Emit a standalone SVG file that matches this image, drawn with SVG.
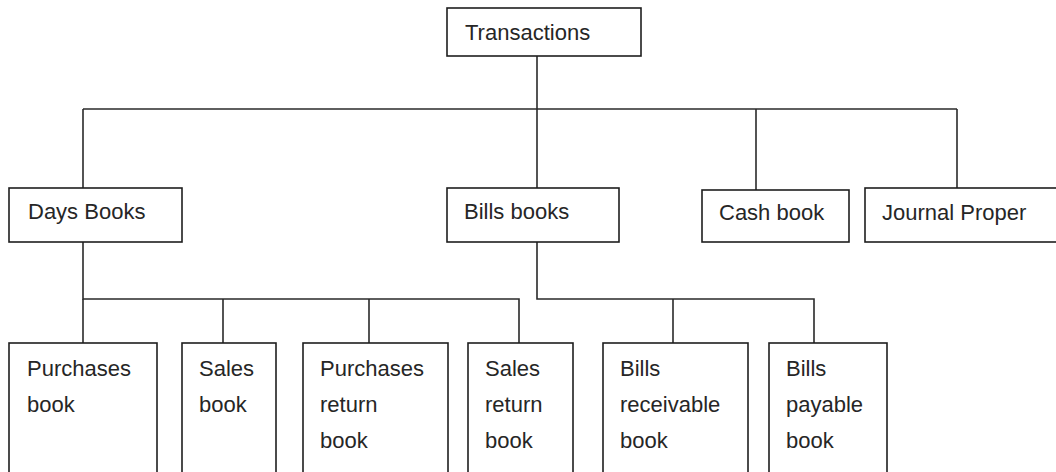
<svg xmlns="http://www.w3.org/2000/svg" width="1056" height="472" viewBox="0 0 1056 472">
  <style>
    .box { fill: #ffffff; stroke: #1e1e1e; stroke-width: 1.6; }
    .label { font-family: "Liberation Sans", Arial, sans-serif; font-size: 22px; fill: #262626; }
    .conn { fill: none; stroke: #2a2a2a; stroke-width: 1.6; }
  </style>
  <rect width="1056" height="472" fill="#ffffff"/>

  <!-- connectors -->
  <g id="connectors" class="conn">
    <path d="M537 56 V109"/>
    <path d="M83 109 H957"/>
    <path d="M83 109 V188"/>
    <path d="M537 109 V188"/>
    <path d="M756 109 V190"/>
    <path d="M957 109 V188"/>
    <path d="M83 242 V299 H519 V343"/>
    <path d="M83 299 V343"/>
    <path d="M223 299 V343"/>
    <path d="M369 299 V343"/>
    <path d="M537 242 V299 H814 V343"/>
    <path d="M673 299 V343"/>
  </g>

  <!-- root -->
  <g id="transactions">
    <rect class="box" x="447" y="8" width="194" height="48"/>
    <text class="label" x="465" y="40">Transactions</text>
  </g>

  <!-- second level -->
  <g id="days-books">
    <rect class="box" x="9" y="188" width="173" height="54"/>
    <text class="label" x="28" y="219">Days Books</text>
  </g>
  <g id="bills-books">
    <rect class="box" x="447" y="188" width="172" height="54"/>
    <text class="label" x="464" y="219">Bills books</text>
  </g>
  <g id="cash-book">
    <rect class="box" x="702" y="190" width="147" height="52"/>
    <text class="label" x="719" y="220">Cash book</text>
  </g>
  <g id="journal-proper">
    <rect class="box" x="865" y="188" width="200" height="54"/>
    <text class="label" x="882" y="220">Journal Proper</text>
  </g>

  <!-- third level -->
  <g id="purchases-book">
    <rect class="box" x="9" y="343" width="148" height="140"/>
    <text class="label" x="27" y="376">Purchases</text>
    <text class="label" x="27" y="412">book</text>
  </g>
  <g id="sales-book">
    <rect class="box" x="182" y="343" width="94" height="140"/>
    <text class="label" x="199" y="376">Sales</text>
    <text class="label" x="199" y="412">book</text>
  </g>
  <g id="purchases-return-book">
    <rect class="box" x="303" y="343" width="145" height="140"/>
    <text class="label" x="320" y="376">Purchases</text>
    <text class="label" x="320" y="412">return</text>
    <text class="label" x="320" y="448">book</text>
  </g>
  <g id="sales-return-book">
    <rect class="box" x="468" y="343" width="105" height="140"/>
    <text class="label" x="485" y="376">Sales</text>
    <text class="label" x="485" y="412">return</text>
    <text class="label" x="485" y="448">book</text>
  </g>
  <g id="bills-receivable-book">
    <rect class="box" x="603" y="343" width="145" height="140"/>
    <text class="label" x="620" y="376">Bills</text>
    <text class="label" x="620" y="412">receivable</text>
    <text class="label" x="620" y="448">book</text>
  </g>
  <g id="bills-payable-book">
    <rect class="box" x="769" y="343" width="118" height="140"/>
    <text class="label" x="786" y="376">Bills</text>
    <text class="label" x="786" y="412">payable</text>
    <text class="label" x="786" y="448">book</text>
  </g>
</svg>
